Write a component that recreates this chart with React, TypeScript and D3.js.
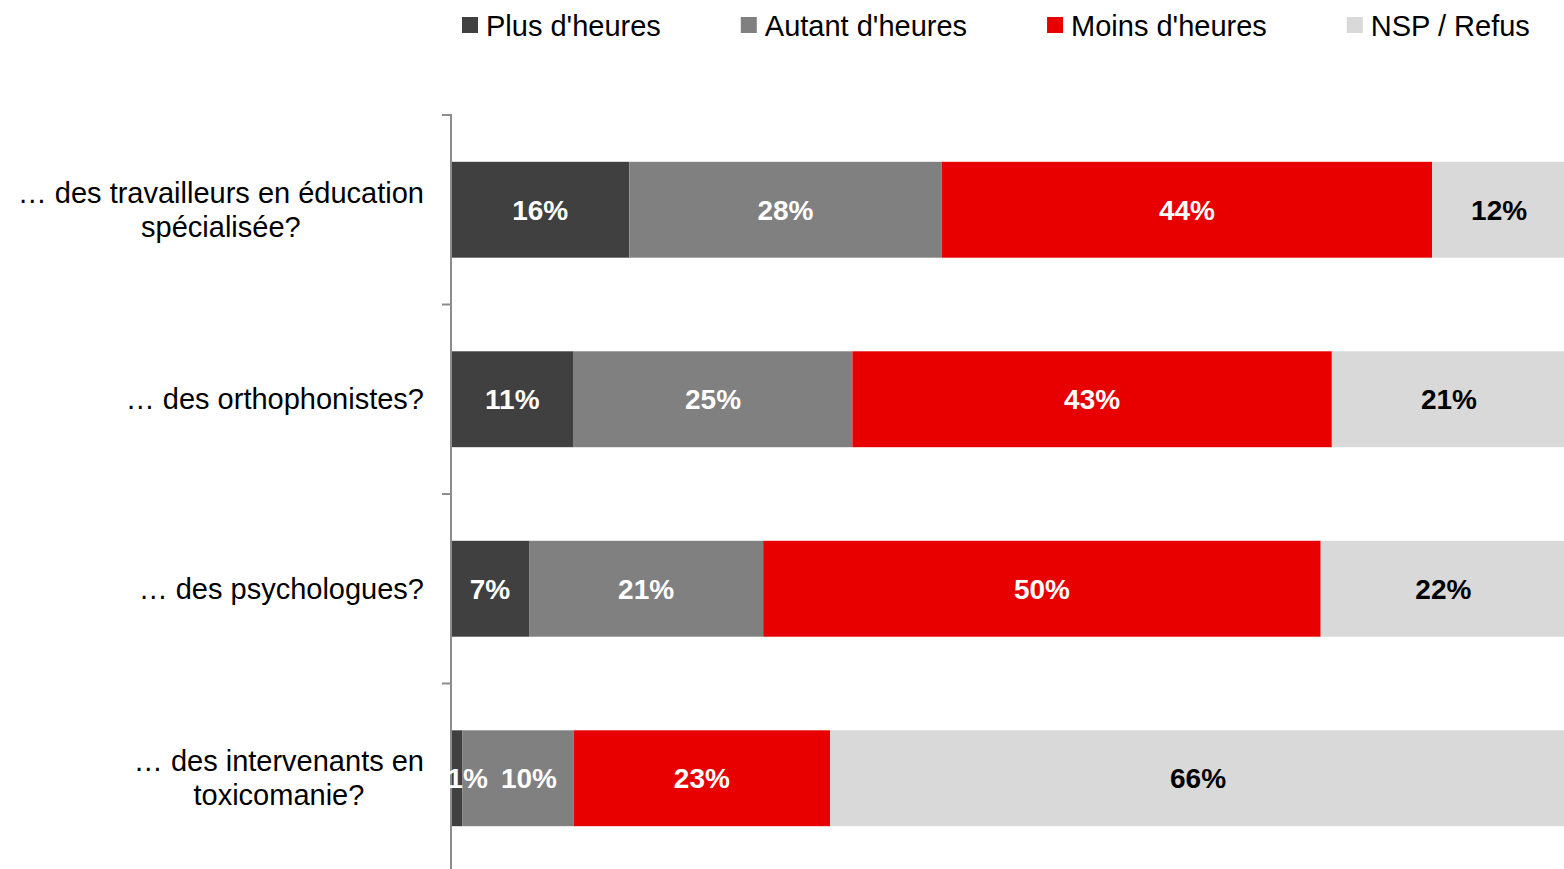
import React, { useEffect, useRef } from "react";
import * as d3 from "d3";

const categories: string[][] = [
  ["… des travailleurs en éducation", "spécialisée?"],
  ["… des orthophonistes?"],
  ["… des psychologues?"],
  ["… des intervenants en", "toxicomanie?"],
];
const seriesNames = ["Plus d'heures", "Autant d'heures", "Moins d'heures", "NSP / Refus"];
const plusValues = [16, 11, 7, 1];
const autantValues = [28, 25, 21, 10];
const moinsValues = [44, 43, 50, 23];
const nspValues = [12, 21, 22, 66];
const seriesColors = ["#404040", "#808080", "#E80000", "#D9D9D9"];
const labelColors = ["#FFFFFF", "#FFFFFF", "#FFFFFF", "#000000"];

const W = 1564;
const H = 869;
const FONT = "'Liberation Sans', Arial, sans-serif";

export default function App() {
  const ref = useRef<SVGSVGElement>(null);

  useEffect(() => {
    const svg = d3.select(ref.current);
    svg.selectAll("*").remove();

    const keys = categories.map((c) => c.join(" "));
    const series = [plusValues, autantValues, moinsValues, nspValues];

    const x = d3.scaleLinear().domain([0, 100]).range([451, 1566]);
    const y = d3
      .scaleBand<string>()
      .domain(keys)
      .range([115, 873])
      .paddingInner(0.494)
      .paddingOuter(0.247);

    const rows = keys.map((k, i) => {
      const o: any = { key: k };
      seriesNames.forEach((s, j) => (o[s] = series[j][i]));
      return o;
    });
    const stacked = d3.stack<any>().keys(seriesNames)(rows);

    const g = svg.append("g");
    stacked.forEach((layer, j) => {
      g.selectAll(null)
        .data(layer)
        .enter()
        .append("rect")
        .attr("x", (d) => x(d[0]))
        .attr("y", (d) => y(d.data.key)!)
        .attr("width", (d) => x(d[1]) - x(d[0]))
        .attr("height", y.bandwidth())
        .attr("fill", seriesColors[j]);
    });

    // axis line and ticks
    const axisColor = "#8C8C8C";
    const step = y.step();
    const top = y.range()[0];
    svg
      .append("line")
      .attr("x1", 451)
      .attr("x2", 451)
      .attr("y1", top)
      .attr("y2", H + 10)
      .attr("stroke", axisColor)
      .attr("stroke-width", 2);
    d3.range(keys.length + 1).forEach((i) => {
      svg
        .append("line")
        .attr("x1", 442)
        .attr("x2", 452)
        .attr("y1", top + i * step)
        .attr("y2", top + i * step)
        .attr("stroke", axisColor)
        .attr("stroke-width", 2);
    });

    // data labels (narrow segments push their label and the next one to the right)
    const labelLayer = svg.append("g");
    keys.forEach((k, i) => {
      let carry = 0;
      stacked.forEach((layer, j) => {
        const d = layer[i];
        const x0 = x(d[0]);
        const x1 = x(d[1]);
        const t = labelLayer
          .append("text")
          .attr("y", y(k)! + y.bandwidth() / 2)
          .attr("dy", "0.35em")
          .attr("text-anchor", "middle")
          .attr("font-family", FONT)
          .attr("font-size", 28)
          .attr("font-weight", "bold")
          .attr("fill", labelColors[j])
          .text(`${d[1] - d[0]}%`);
        const tw = (t.node() as SVGTextElement).getComputedTextLength();
        let shift = carry;
        carry = 0;
        if (x1 - x0 < tw) {
          shift = 11;
          carry = 11;
        }
        t.attr("x", (x0 + x1) / 2 + shift);
      });
    });

    // category labels
    const lineH = 34;
    categories.forEach((lines, i) => {
      const cy = y(keys[i])! + y.bandwidth() / 2;
      const t = svg
        .append("text")
        .attr("font-family", FONT)
        .attr("font-size", 29)
        .attr("fill", "#000")
        .attr("text-anchor", "middle");
      const spans = lines.map((ln, k) =>
        t
          .append("tspan")
          .attr("y", cy + (k - (lines.length - 1) / 2) * lineH)
          .attr("dy", "0.35em")
          .text(ln)
      );
      const maxW = d3.max(spans.map((s) => (s.node() as SVGTSpanElement).getComputedTextLength()))!;
      spans.forEach((s) => s.attr("x", 424 - maxW / 2));
    });

    // legend
    let lx = 462;
    seriesNames.forEach((name, j) => {
      svg
        .append("rect")
        .attr("x", lx)
        .attr("y", 17)
        .attr("width", 16)
        .attr("height", 16)
        .attr("fill", seriesColors[j]);
      const t = svg
        .append("text")
        .attr("x", lx + 24)
        .attr("y", 35.5)
        .attr("font-family", FONT)
        .attr("font-size", 29)
        .attr("fill", "#000")
        .text(name);
      const w = (t.node() as SVGTextElement).getComputedTextLength();
      lx = lx + 24 + w + 80;
    });
  }, []);

  return (
    <svg
      ref={ref}
      width={W}
      height={H}
      style={{ position: "absolute", left: 0, top: 0, background: "#fff" }}
    />
  );
}
